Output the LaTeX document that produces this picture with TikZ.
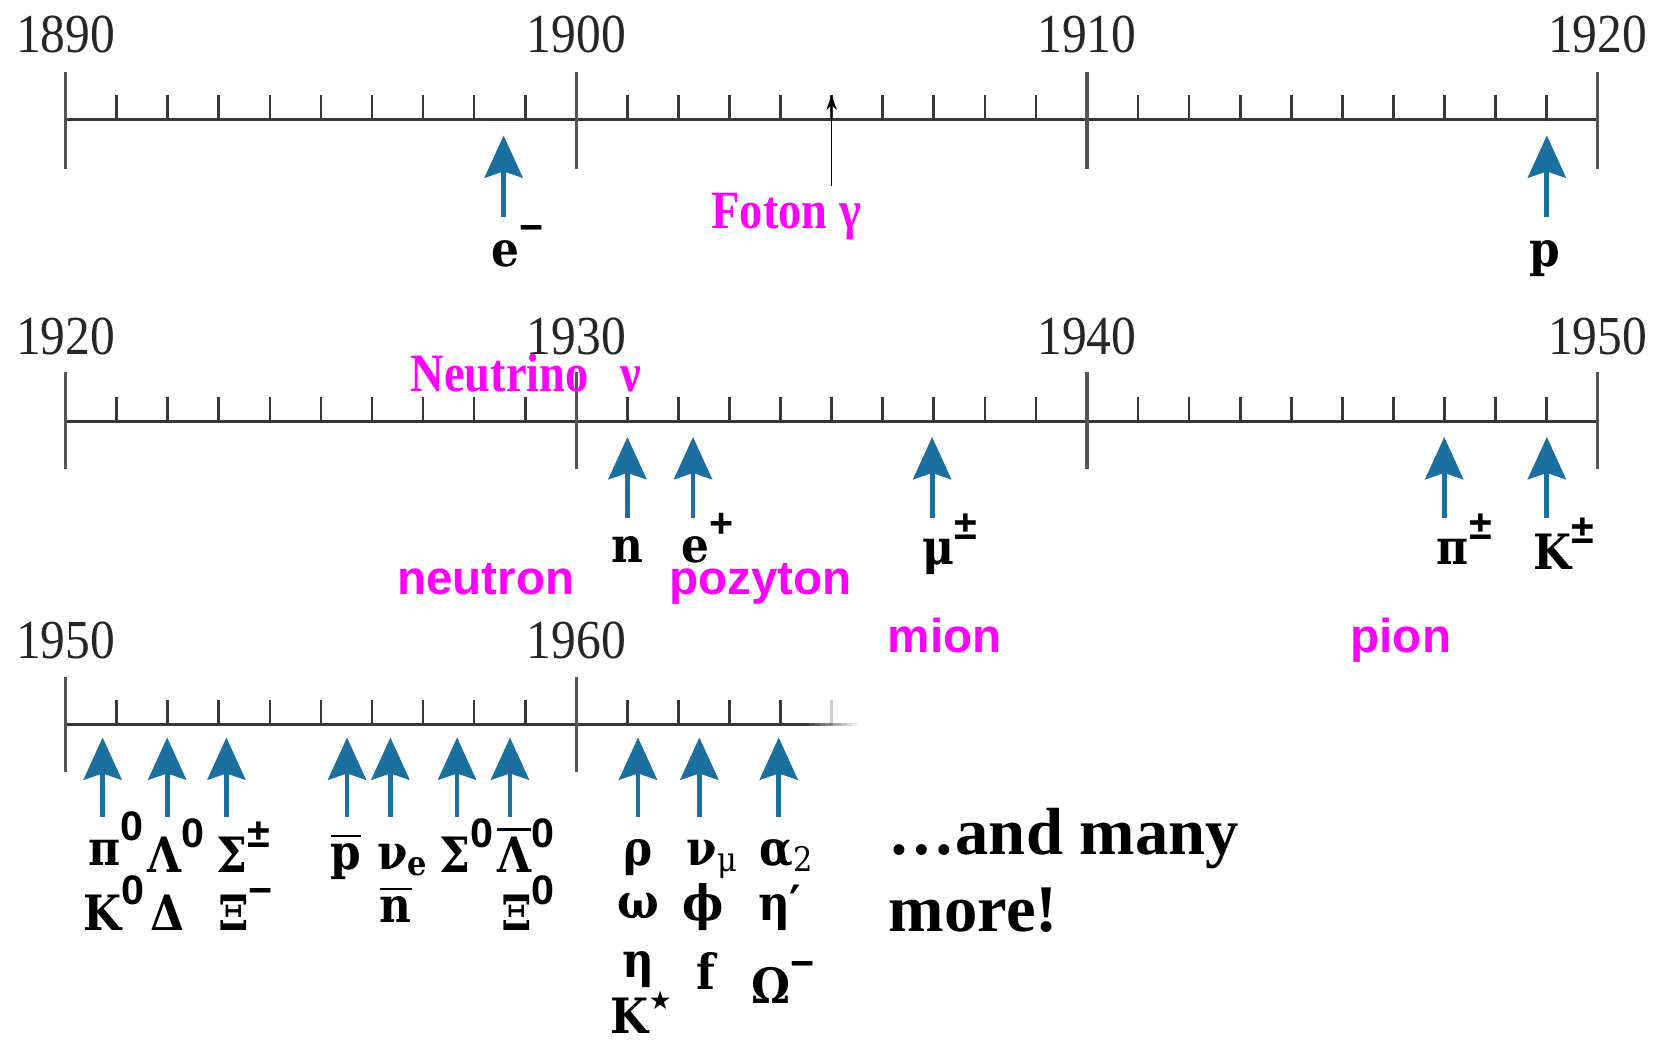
\documentclass[tikz,border=0pt]{standalone}
\usepackage{fontspec}
\setmainfont{Liberation Serif}
\newfontfamily\yearfont[FakeStretch=0.9]{Liberation Serif}
\newfontfamily\partfont[FakeStretch=0.9]{DejaVu Serif}
\newfontfamily\magserif[FakeStretch=0.86]{Liberation Serif}
\newfontfamily\magsans{Liberation Sans}
\newfontfamily\symfont{DejaVu Sans}
\usetikzlibrary{arrows.meta}

\definecolor{arrowblue}{RGB}{28,112,160}
\definecolor{axisgray}{RGB}{55,55,55}
\definecolor{magtext}{RGB}{255,0,255}
\newcommand{\ovl}[1]{\vbox{\hrule height 2.5pt\kern 6pt\hbox{#1}}}
\newcommand{\partsup}[1]{\raisebox{0.52em}{\magsans\bfseries\fontsize{39}{39}\selectfont #1}}
\newcommand{\partsub}[1]{\raisebox{-0.12em}{\fontsize{32}{32}\selectfont #1}}

\tikzset{
    year/.style={font=\yearfont\fontsize{52}{60}\selectfont, text=black!85, anchor=base, inner sep=0},
    part/.style={font=\partfont\bfseries\fontsize{46}{50}\selectfont, anchor=base, inner sep=0},
    discovery/.style={draw=arrowblue, line width=4.5pt, -{Stealth[length=40pt,width=36pt,inset=6pt]}},
    axisline/.style={draw=axisgray, line width=3pt},
    major/.style={draw=axisgray!85, line width=3pt},
    minor/.style={draw=axisgray, line width=2.5pt},
    magnote/.style={font=\magserif\bfseries\fontsize{51}{56}\selectfont, text=magtext, anchor=base, inner sep=0},
    maglabel/.style={font=\magsans\bfseries\fontsize{45}{50}\selectfont, text=magtext, anchor=base, inner sep=0}
}

\begin{document}
\begin{tikzpicture}[x=1pt, y=-1pt]
\useasboundingbox (0,0) rectangle (1568,984);

% Timeline 1890 - 1920
\draw[axisline] (62,113) -- (1510,113);
\foreach \i in {1,...,29}
    \draw[minor] ({62+\i*48.267},90) -- ({62+\i*48.267},113);
\foreach \x/\yr in {62/1890, 544.67/1900, 1027.33/1910, 1510/1920} {
    \draw[major] (\x,68) -- (\x,160);
    \node[year] (ya\yr) at (\x,50) {\yr};
}

% Electron and proton
\coordinate (eTail) at (476,205);
\coordinate (eTip) at (476,128);
\draw[discovery] (eTail) -- (eTip);
\node[part] (eLab) at (489,252) {e\partsup{−}};

\coordinate (pTail) at (1462,205);
\coordinate (pTip) at (1462,128);
\draw[discovery] (pTail) -- (pTip);
\node[part] (pLab) at (1460,252) {p};

% Photon
\coordinate (gTail) at (786,176);
\coordinate (gTip) at (786,90);
\draw[black, line width=1.5pt, -{Stealth[length=14pt,width=10pt]}] (gTail) -- (gTip);
\node[magnote] (foton) at (743,216) {Foton γ};

% Timeline 1920 - 1950
\draw[axisline] (62,398) -- (1510,398);
\foreach \i in {1,...,29}
    \draw[minor] ({62+\i*48.267},375) -- ({62+\i*48.267},398);
\foreach \x/\yr in {62/1920, 544.67/1930, 1027.33/1940, 1510/1950} {
    \draw[major] (\x,352) -- (\x,443);
    \node[year] (yb\yr) at (\x,335) {\yr};
}

\node[magnote] (neutrino) at (497,370) {Neutrino\hspace{30pt}ν};

% Discoveries 1930s and 1940s
\foreach \x/\n in {593/n, 655/ep, 881/mu, 1365/pi, 1462/K} {
    \coordinate (\n Tail) at (\x,490);
    \coordinate (\n Tip) at (\x,413);
    \draw[discovery] (\n Tail) -- (\n Tip);
}
\node[part] (nLab) at (593,532) {n};
\node[part] (epLab) at (669,532) {e\partsup{+}};
\node[part] (muLab) at (898,534) {μ\partsup{±}};
\node[part] (piLab) at (1384,534) {π\partsup{±}};
\node[part] (KLab) at (1478,538) {K\partsup{±}};

\node[maglabel] (neutron) at (459,562) {neutron};
\node[maglabel] (pozyton) at (719,562) {pozyton};
\node[maglabel] (mion) at (893,617) {mion};
\node[maglabel] (pion) at (1324,617) {pion};

% Timeline 1950 - (fading out)
\draw[axisline] (62,685) -- (760,685);
\foreach \k in {0,...,9}
    \draw[axisline, opacity={1-\k*0.1}] ({760+\k*5},685) -- ({765+\k*5},685);
\foreach \i in {1,...,14}
    \draw[minor] ({62+\i*48.267},662) -- ({62+\i*48.267},685);
\draw[minor, opacity=0.25] (786,662) -- (786,685);
\foreach \x/\yr in {62/1950, 544.67/1960} {
    \draw[major] (\x,640) -- (\x,730);
    \node[year] (yc\yr) at (\x,622) {\yr};
}

% Discoveries 1950s and 1960s
\foreach \x/\n in {97/a, 158/b, 214/c, 328/d, 369/e, 432/f, 482/g, 603/h, 661/i, 736/j} {
    \coordinate (\n Tail) at (\x,772);
    \coordinate (\n Tip) at (\x,697);
    \draw[discovery] (\n Tail) -- (\n Tip);
}
\node[part] (piz) at (110,818) {π\partsup{0}};
\node[part] (Laz) at (166,825) {Λ\partsup{0}};
\node[part] (Sipm) at (230,825) {Σ\partsup{±}};
\node[part] (pbar) at (327,822) {\ovl{p}};
\node[part] (nue) at (380,822) {ν\partsub{e}};
\node[part] (Siz) at (441,825) {Σ\partsup{0}};
\node[part] (Labar) at (497,825) {\ovl{Λ}\partsup{0}};
\node[part] (Kz) at (108,879) {K\partsup{0}};
\node[part] (De) at (158,879) {Δ};
\node[part] (Xim) at (232,879) {Ξ\partsup{−}};
\node[part] (nbar) at (374,872) {\ovl{n}};
\node[part] (Xiz) at (499,879) {Ξ\partsup{0}};

\node[part] (rho) at (603,818) {ρ};
\node[part] (numu) at (673,818) {ν\partsub{\mdseries μ}};
\node[part] (atwo) at (743,818) {α\partsub{\mdseries 2}};
\node[part] (om) at (603,868) {ω};
\node[part] (ph) at (665,870) {ϕ};
\node[part] (etap) at (737,870) {η′};
\node[part] (eta) at (603,924) {η};
\node[part] (fz) at (667,935) {f};
\node[part] (Om) at (740,948) {Ω\partsup{−}};
\node[part] (Kst) at (606,977) {K\raisebox{0.5em}{\symfont\fontsize{24}{24}\selectfont ★}};

% Closing remark
\node[font=\bfseries\fontsize{63}{70}\selectfont, anchor=base west, inner sep=0] (more1) at (840,808) {…and many};
\node[font=\bfseries\fontsize{63}{70}\selectfont, anchor=base west, inner sep=0] (more2) at (840,880) {more!};

\end{tikzpicture}
\end{document}
